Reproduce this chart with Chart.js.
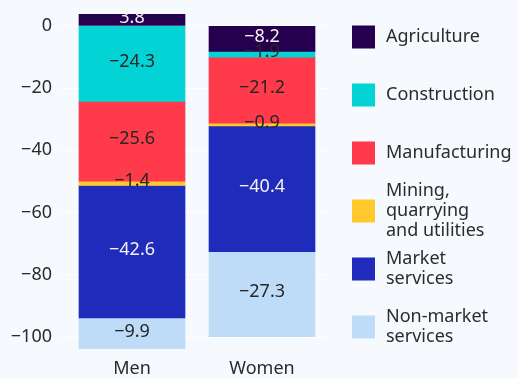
<!DOCTYPE html>
<html>
<head>
<meta charset="utf-8">
<script src="https://cdn.jsdelivr.net/npm/chart.js@4/dist/chart.umd.min.js"></script>
<style>
  html, body { margin: 0; padding: 0; background: #f6f9fd; }
  #wrap { width: 518px; height: 378px; position: relative; }
</style>
</head>
<body>
<div id="wrap"><canvas id="c" width="518" height="378"></canvas></div>
<script>
// Categories
const groups = ['Men', 'Women'];
const sectors = [
  'Agriculture',
  'Construction',
  'Manufacturing',
  'Mining,\nquarrying\nand utilities',
  'Market\nservices',
  'Non-market\nservices'
];

// Change by sector, one value per group (Men, Women)
const agriculture   = [3.8, -8.2];
const construction  = [-24.3, -1.9];
const manufacturing = [-25.6, -21.2];
const mining        = [-1.4, -0.9];
const marketSvc     = [-42.6, -40.4];
const nonMarketSvc  = [-9.9, -27.3];

// Y axis tick values
const yTicks = [-100, -80, -60, -40, -20, 0];

const seriesValues = [agriculture, construction, manufacturing, mining, marketSvc, nonMarketSvc];
const seriesColors = ['#26004f', '#03d3d4', '#ff3b4b', '#ffc92b', '#1f2bbb', '#bedcf7'];
const labelColors  = ['#f2f2f2', '#262626', '#262626', '#262626', '#f2f2f2', '#262626'];

const FONT = '"Noto Sans", "Open Sans", sans-serif';
const TEXT = '#2b2b2b';

const fmt = v => {
  const s = Math.abs(v).toFixed(1);
  return v < 0 ? '\u2212' + s : s;
};

const datasets = seriesValues.map((vals, si) => ({
  label: sectors[si],
  data: vals,
  backgroundColor: seriesColors[si],
  labelColor: labelColors[si],
  borderWidth: 0,
  barThickness: 106
}));

// Value labels centred in each bar segment
const barLabels = {
  id: 'barLabels',
  afterDatasetsDraw(chart) {
    const ctx = chart.ctx;
    ctx.save();
    ctx.font = '18px ' + FONT;
    ctx.textAlign = 'center';
    ctx.textBaseline = 'middle';
    chart.data.datasets.forEach((ds, di) => {
      chart.getDatasetMeta(di).data.forEach((bar, i) => {
        const p = bar.getProps(['x', 'y', 'base'], true);
        ctx.fillStyle = ds.labelColor;
        ctx.fillText(fmt(ds.data[i]), p.x, (p.y + p.base) / 2 - 2);
      });
    });
    ctx.restore();
  }
};

// Legend on the right, square swatches with wrapped names
const sideLegend = {
  id: 'sideLegend',
  afterDraw(chart) {
    const ctx = chart.ctx;
    ctx.save();
    ctx.font = '18px ' + FONT;
    ctx.textAlign = 'left';
    ctx.textBaseline = 'middle';
    const x0 = 352, box = 23, tx = 386, top = 37, step = 58, lh = 20;
    chart.data.datasets.forEach((ds, i) => {
      const cy = top + i * step;
      ctx.fillStyle = ds.backgroundColor;
      ctx.fillRect(x0, cy - box / 2, box, box);
      const lines = ds.label.split('\n');
      ctx.fillStyle = TEXT;
      lines.forEach((ln, k) => {
        ctx.fillText(ln, tx, cy + (k - (lines.length - 1) / 2) * lh);
      });
    });
    ctx.restore();
  }
};

new Chart(document.getElementById('c'), {
  type: 'bar',
  data: { labels: groups, datasets },
  plugins: [barLabels, sideLegend],
  options: {
    responsive: false,
    animation: false,
    devicePixelRatio: 1,
    layout: { padding: { top: 14, right: 191, bottom: 0, left: 0 } },
    plugins: { legend: { display: false }, tooltip: { enabled: false } },
    scales: {
      x: {
        stacked: true,
        afterFit: s => { s.height = 29; },
        grid: { display: false, drawTicks: false },
        border: { display: false },
        ticks: {
          padding: 9,
          color: TEXT,
          font: { family: FONT, size: 18 }
        }
      },
      y: {
        stacked: true,
        min: -103.85,
        max: 3.8,
        afterBuildTicks: s => { s.ticks = yTicks.map(v => ({ value: v })); },
        afterFit: s => { s.width = 67; s.paddingTop = 0; s.paddingBottom = 0; },
        grid: { color: '#ffffff', lineWidth: 1, drawTicks: true, tickLength: 4 },
        border: { display: false },
        ticks: {
          padding: 11,
          color: TEXT,
          font: { family: FONT, size: 18 },
          callback: v => fmt(v).replace('.0', '')
        }
      }
    }
  }
});
</script>
</body>
</html>
